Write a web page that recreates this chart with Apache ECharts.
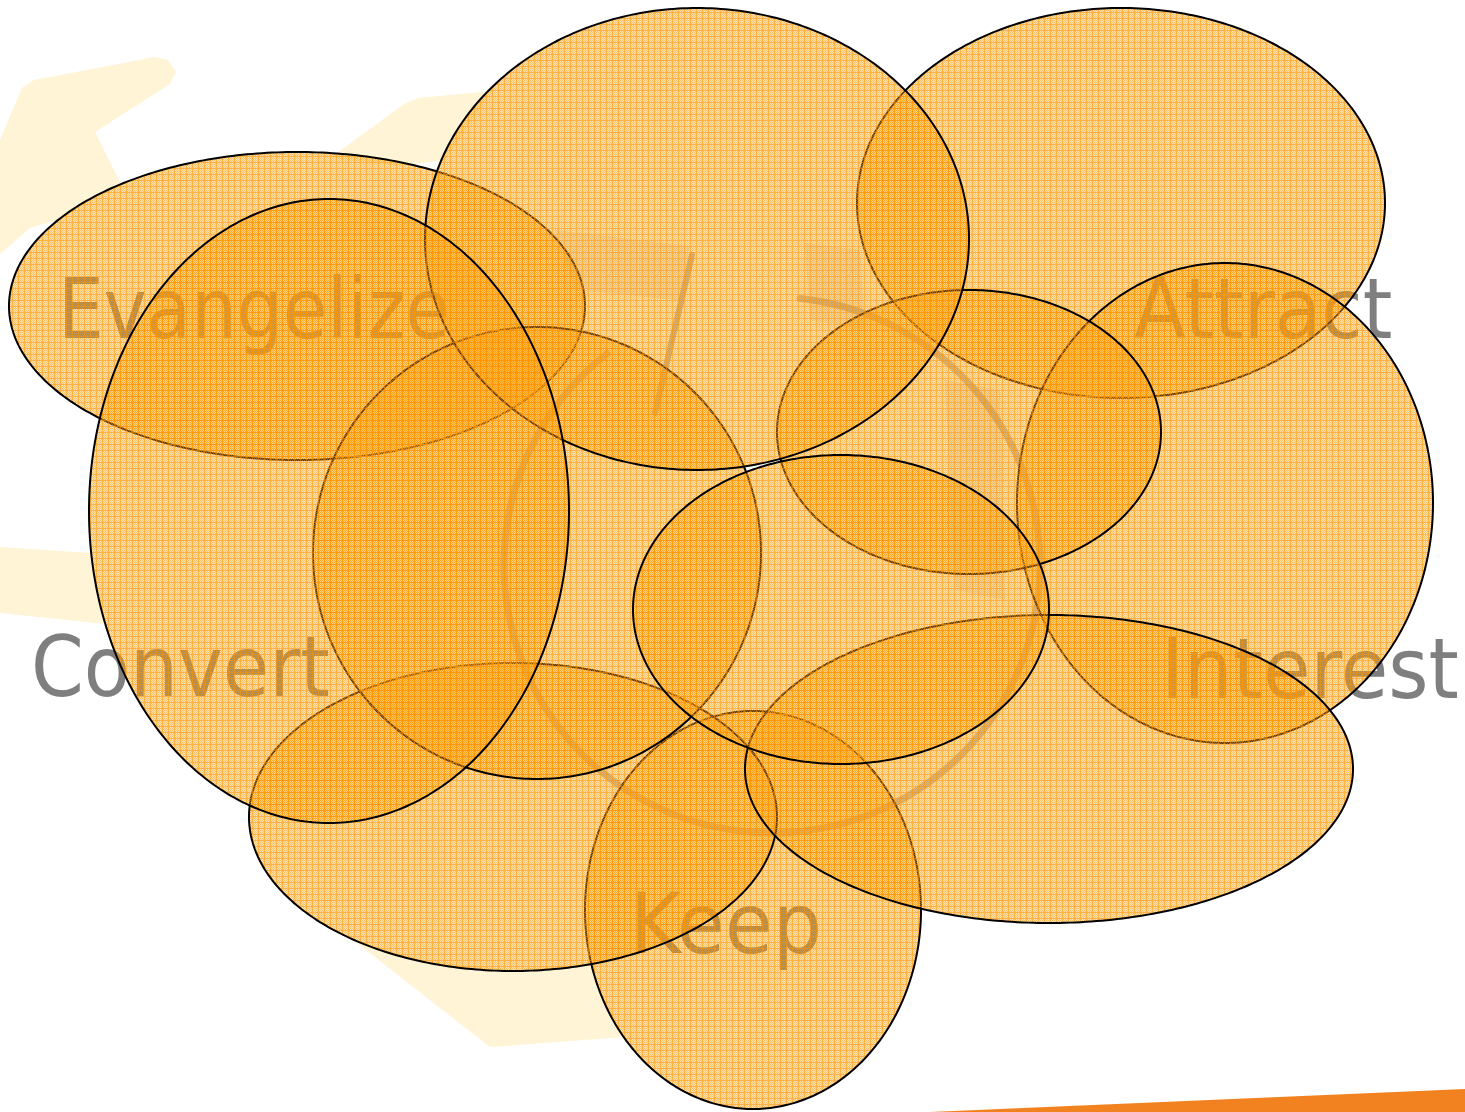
<!DOCTYPE html>
<html>
<head>
<meta charset="utf-8">
<script src="https://cdn.jsdelivr.net/npm/echarts/dist/echarts.min.js"></script>
<style>
html,body{margin:0;padding:0;background:#ffffff;}
#chart{width:1465px;height:1112px;}
</style>
</head>
<body>
<div id="chart"></div>
<script>
// ---------------- DATA ----------------
// Overlapping ellipses, listed in drawing order (later ones cover earlier outlines)
const ellipseNames = ['Keep', 'Attract', 'Interest', 'RightMiddle', 'Evangelize', 'BottomLeft', 'CenterLeft', 'TopCenter', 'BottomRight', 'Center', 'Convert'];
const ellipseCX = [753, 1121, 1225, 969, 297, 513, 537, 697, 1049, 841, 329];
const ellipseCY = [910, 203, 503, 432, 306, 817, 553, 239, 769, 609.5, 511];
const ellipseRX = [168, 264, 208, 192, 288, 264, 224, 272, 304, 208, 240];
const ellipseRY = [199, 195, 240, 142, 154, 154, 226, 231, 154, 154.5, 312];

// Stage labels (left x, text middle y)
const labelTexts = ['Evangelize', 'Attract', 'Convert', 'Interest', 'Keep'];
const labelX = [58, 1134, 31, 1161, 630];
const labelY = [316, 316, 674, 676, 931];

// Cream background arrow pieces
const creamShapes = [
  [[0,140],[22,88],[34,80],[155,57],[168,60],[176,72],[170,84],[95,132],[122,186],[95,198],[60,219],[30,228],[0,254]],
  [[330,158],[404,104],[418,98],[492,91],[445,160],[400,166]],
  [[0,547],[92,553],[105,624],[0,613]],
  [[353,940],[420,960],[513,970],[592,962],[600,990],[625,1037],[490,1047]]
];
// Orange wedge at bottom right
const wedgeShape = [[930,1112],[1465,1089],[1465,1112]];
// Gray cycle ring behind the ellipses
const ringCenter = [772, 565];
const ringRadius = 268;
const ringStartDeg = -84;
const ringEndDeg = 232;
// Gray stroke and faint gray patches
const grayLine = [[692,255],[655,413]];
const grayPatches = [
  [[555,230],[690,246],[680,300],[575,290]],
  [[805,243],[860,250],[865,330],[810,320]],
  [[945,380],[1000,390],[1005,600],[955,590]]
];

// label horizontal stretch (style)
const labelStretch = [0.862, 0.9, 0.9, 0.92, 0.925];

// ---------------- PATTERN ----------------
function makePattern() {
  const n = 6;
  const cv = document.createElement('canvas');
  cv.width = n; cv.height = n;
  const ctx = cv.getContext('2d');
  const img = ctx.createImageData(n, n);
  for (let j = 0; j < n; j++) {
    for (let i = 0; i < n; i++) {
      const k = (j * n + i) * 4;
      let g, b, a;
      if (i === 0 || j === 0) { g = 150; b = 0; a = 0.74; }
      else if ((i + j) % 2 === 0) { g = 155; b = 0; a = 0.62; }
      else { g = 170; b = 40; a = 0.33; }
      img.data[k] = 255; img.data[k+1] = g; img.data[k+2] = b; img.data[k+3] = Math.round(a * 255);
    }
  }
  ctx.putImageData(img, 0, 0);
  return { image: cv, repeat: 'repeat' };
}
const hatch = makePattern();

// ---------------- CHART ----------------
const chart = echarts.init(document.getElementById('chart'), null, { renderer: 'canvas' });

const ellipseData = ellipseNames.map((n, i) => ({ name: n, value: [ellipseCX[i], ellipseCY[i], ellipseRX[i], ellipseRY[i]] }));
const labelData = labelTexts.map((t, i) => ({ name: t, value: [labelX[i], labelY[i]] }));

function polyItem(shapes, fill) {
  return function (params, api) {
    const pts = shapes[params.dataIndex].map(p => api.coord(p));
    return { type: 'polygon', shape: { points: pts }, style: { fill: fill, stroke: null, lineWidth: 0 } };
  };
}

const option = {
  animation: false,
  backgroundColor: '#ffffff',
  grid: { left: 0, right: 0, top: 0, bottom: 0 },
  xAxis: { type: 'value', min: 0, max: 1465, show: false },
  yAxis: { type: 'value', min: 0, max: 1112, inverse: true, show: false },
  series: [
    {
      type: 'custom', name: 'cream', silent: true, z: 1,
      data: creamShapes.map((s, i) => [i]),
      renderItem: polyItem(creamShapes, '#FFF4D6')
    },
    {
      type: 'custom', name: 'wedge', silent: true, z: 1,
      data: [[0]],
      renderItem: polyItem([wedgeShape], '#F28220')
    },
    {
      type: 'custom', name: 'patches', silent: true, z: 2,
      data: grayPatches.map((s, i) => [i]),
      renderItem: polyItem(grayPatches, 'rgba(130,130,130,0.14)')
    },
    {
      type: 'custom', name: 'ring', silent: true, z: 2,
      data: [[ringCenter[0], ringCenter[1], ringRadius]],
      renderItem: function (params, api) {
        const c = api.coord([api.value(0), api.value(1)]);
        const r = api.size([api.value(2), 0])[0];
        return {
          type: 'arc',
          shape: { cx: c[0], cy: c[1], r: r, startAngle: ringStartDeg * Math.PI / 180, endAngle: ringEndDeg * Math.PI / 180, clockwise: true },
          style: { stroke: 'rgba(128,128,128,0.55)', lineWidth: 7, fill: null, lineCap: 'round' }
        };
      }
    },
    {
      type: 'custom', name: 'grayLine', silent: true, z: 2,
      data: [[grayLine[0][0], grayLine[0][1], grayLine[1][0], grayLine[1][1]]],
      renderItem: function (params, api) {
        const a = api.coord([api.value(0), api.value(1)]);
        const b = api.coord([api.value(2), api.value(3)]);
        return { type: 'line', shape: { x1: a[0], y1: a[1], x2: b[0], y2: b[1] }, style: { stroke: 'rgba(128,128,128,0.6)', lineWidth: 6, lineCap: 'round' } };
      }
    },
    {
      type: 'custom', name: 'labels', silent: true, z: 3,
      data: labelData,
      renderItem: function (params, api) {
        const p = api.coord([api.value(0), api.value(1)]);
        return {
          type: 'text', x: p[0], y: p[1], scaleX: labelStretch[params.dataIndex],
          style: { text: labelTexts[params.dataIndex], fill: '#7f7f7f', fontSize: 84, fontFamily: 'DejaVu Sans', align: 'left', verticalAlign: 'middle' }
        };
      }
    },
    {
      type: 'custom', name: 'ellipses', silent: true, z: 5,
      data: ellipseData,
      renderItem: function (params, api) {
        const cx = api.value(0), cy = api.value(1), rx = api.value(2), ry = api.value(3);
        const pts = [];
        const N = 360;
        for (let k = 0; k < N; k++) {
          const t = k / N * Math.PI * 2;
          pts.push(api.coord([cx + rx * Math.cos(t), cy + ry * Math.sin(t)]));
        }
        return { type: 'polygon', shape: { points: pts }, style: { fill: hatch, stroke: '#000000', lineWidth: 2 } };
      }
    }
  ]
};
chart.setOption(option);
</script>
</body>
</html>
